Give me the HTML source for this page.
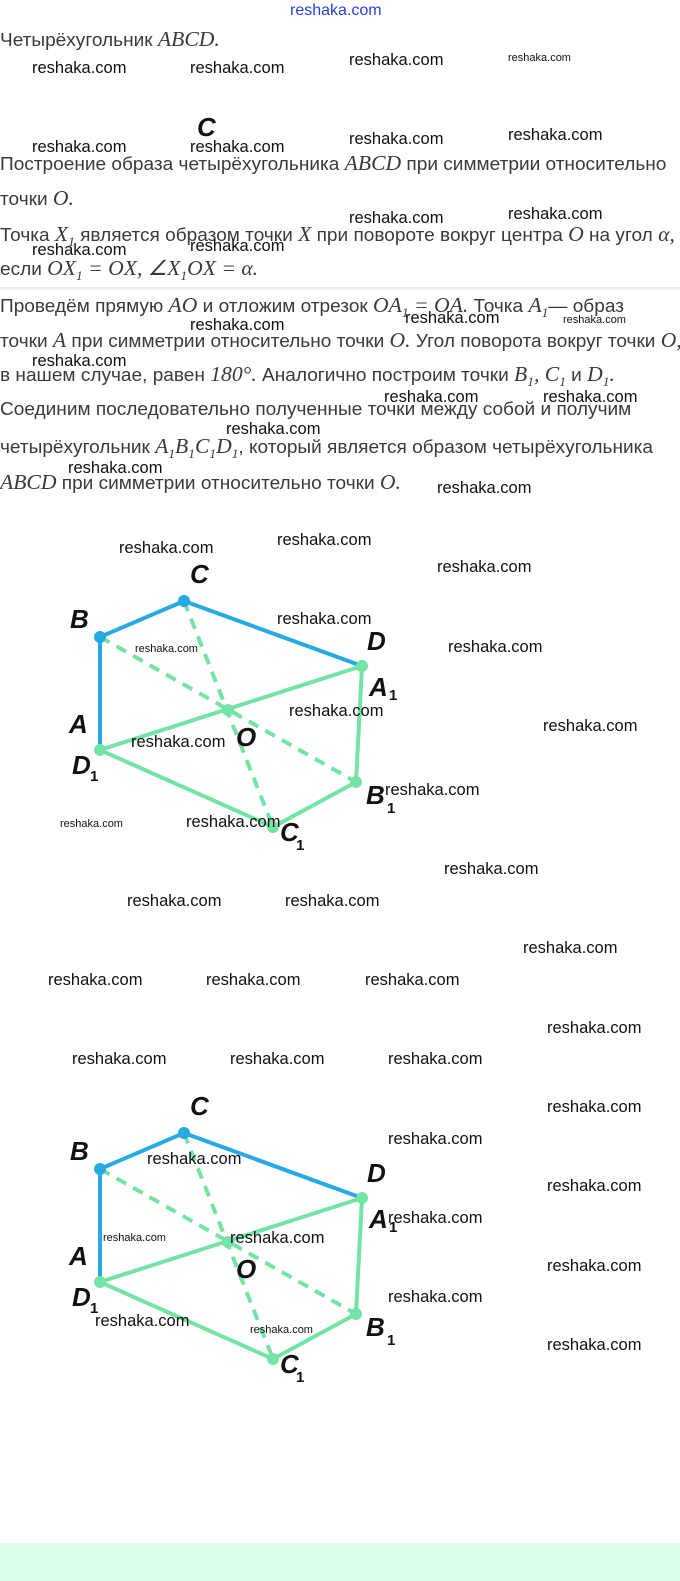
<!DOCTYPE html>
<html><head><meta charset="utf-8"><style>
body{margin:0;width:680px;height:1581px;position:relative;background:#fff;overflow:hidden;font-family:"Liberation Sans",sans-serif}
.t{position:absolute;left:0;font-size:18.5px;color:#3a3a3a;white-space:nowrap;transform:scaleX(1.03);transform-origin:left}
.m{font-family:"Liberation Serif",serif;font-style:italic;font-size:21px}
.w{position:absolute;font-size:16.5px;color:#111;white-space:nowrap;line-height:20px}
.s{font-size:11px}
.lb{font-family:"Liberation Sans",sans-serif;font-weight:bold;font-style:italic;font-size:26px;fill:#111}
.sb{font-family:"Liberation Sans",sans-serif;font-weight:bold;font-size:15px;fill:#111}
</style></head><body>
<div style="position:absolute;left:290px;top:2px;color:#2b3fd6;font-size:16px">reshaka.com</div>
<div class="t" style="top:27px">Четырёхугольник <span class="m">ABCD.</span></div>
<div style="position:absolute;left:197px;top:112px;font-weight:bold;font-style:italic;font-size:26px;color:#111">C</div>
<div class="t" style="top:151px">Построение образа четырёхугольника <span class="m">ABCD</span> при симметрии относительно</div>
<div class="t" style="top:186px">точки <span class="m">O.</span></div>
<div class="t" style="top:222px">Точка <span class="m">X<sub style="font-size:13px">1</sub></span> является образом точки <span class="m">X</span> при повороте вокруг центра <span class="m">O</span> на угол <span class="m">α,</span></div>
<div class="t" style="top:256px">если <span class="m">OX<sub style="font-size:13px">1</sub> = OX, ∠X<sub style="font-size:13px">1</sub>OX = α.</span></div>
<div style="position:absolute;left:0;top:287px;width:680px;height:3px;background:linear-gradient(#e4e4e4,#fafafa)"></div>
<div class="t" style="top:293px">Проведём прямую <span class="m">AO</span> и отложим отрезок <span class="m">OA<sub style="font-size:13px">1</sub> = OA.</span> Точка <span class="m">A<sub style="font-size:13px">1</sub></span>— образ</div>
<div class="t" style="top:328px">точки <span class="m">A</span> при симметрии относительно точки <span class="m">O.</span> Угол поворота вокруг точки <span class="m">O,</span></div>
<div class="t" style="top:362px">в нашем случае, равен <span class="m">180°.</span> Аналогично построим точки <span class="m">B<sub style="font-size:13px">1</sub>, C<sub style="font-size:13px">1</sub></span> и <span class="m">D<sub style="font-size:13px">1</sub>.</span></div>
<div class="t" style="top:398px">Соединим последовательно полученные точки между собой и получим</div>
<div class="t" style="top:434px">четырёхугольник <span class="m">A<sub style="font-size:13px">1</sub>B<sub style="font-size:13px">1</sub>C<sub style="font-size:13px">1</sub>D<sub style="font-size:13px">1</sub></span>, который является образом четырёхугольника</div>
<div class="t" style="top:470px"><span class="m">ABCD</span> при симметрии относительно точки <span class="m">O.</span></div>

<svg width="680" height="1581" style="position:absolute;left:0;top:0">
<defs><g id="dg">
<g stroke="#74e3a6" stroke-width="4" fill="none" stroke-dasharray="11,8">
<line x1="100" y1="637" x2="356" y2="782"/><line x1="184" y1="601" x2="273" y2="827"/></g>
<g stroke="#74e3a6" stroke-width="4" fill="none">
<polyline points="100,750 362,666 356,782 273,827 100,750"/></g>
<g stroke="#27a9e1" stroke-width="4" fill="none"><polyline points="100,750 100,637 184,601 362,666"/></g>
<g fill="#74e3a6"><circle cx="100" cy="750" r="6"/><circle cx="362" cy="666" r="6"/><circle cx="356" cy="782" r="6"/><circle cx="273" cy="827" r="6"/><circle cx="228" cy="710" r="6"/></g>
<g fill="#27a9e1"><circle cx="100" cy="637" r="6"/><circle cx="184" cy="601" r="6"/></g>
<text class="lb" x="190" y="583">C</text><text class="lb" x="70" y="628">B</text><text class="lb" x="367" y="650">D</text>
<text class="lb" x="369" y="696">A</text><text class="sb" x="389" y="700">1</text>
<text class="lb" x="69" y="733">A</text><text class="lb" x="236" y="746">O</text>
<text class="lb" x="72" y="774">D</text><text class="sb" x="90" y="781">1</text>
<text class="lb" x="366" y="804">B</text><text class="sb" x="387" y="813">1</text>
<text class="lb" x="280" y="841">C</text><text class="sb" x="296" y="850">1</text>
</g></defs>
<use href="#dg"/><use href="#dg" y="532"/>
</svg>

<div style="position:absolute;left:0;top:1543px;width:680px;height:38px;background:#dcfdea"></div>

<div class="w" style="left:32px;top:58px">reshaka.com</div><div class="w" style="left:190px;top:58px">reshaka.com</div><div class="w" style="left:349px;top:50px">reshaka.com</div><div class="w s" style="left:508px;top:48px">reshaka.com</div>
<div class="w" style="left:32px;top:137px">reshaka.com</div><div class="w" style="left:190px;top:137px">reshaka.com</div><div class="w" style="left:349px;top:129px">reshaka.com</div><div class="w" style="left:508px;top:125px">reshaka.com</div>
<div class="w" style="left:349px;top:208px">reshaka.com</div><div class="w" style="left:508px;top:204px">reshaka.com</div><div class="w" style="left:32px;top:240px">reshaka.com</div><div class="w" style="left:190px;top:236px">reshaka.com</div>
<div class="w" style="left:190px;top:315px">reshaka.com</div><div class="w" style="left:405px;top:308px">reshaka.com</div><div class="w s" style="left:563px;top:310px">reshaka.com</div>
<div class="w" style="left:32px;top:351px">reshaka.com</div><div class="w" style="left:384px;top:387px">reshaka.com</div><div class="w" style="left:543px;top:387px">reshaka.com</div><div class="w" style="left:226px;top:419px">reshaka.com</div>
<div class="w" style="left:68px;top:458px">reshaka.com</div><div class="w" style="left:437px;top:478px">reshaka.com</div>
<div class="w" style="left:119px;top:538px">reshaka.com</div><div class="w" style="left:277px;top:530px">reshaka.com</div><div class="w" style="left:437px;top:557px">reshaka.com</div>
<div class="w" style="left:277px;top:609px">reshaka.com</div><div class="w" style="left:448px;top:637px">reshaka.com</div><div class="w s" style="left:135px;top:639px">reshaka.com</div>
<div class="w" style="left:289px;top:701px">reshaka.com</div><div class="w" style="left:543px;top:716px">reshaka.com</div><div class="w" style="left:131px;top:732px">reshaka.com</div>
<div class="w" style="left:385px;top:780px">reshaka.com</div><div class="w s" style="left:60px;top:814px">reshaka.com</div><div class="w" style="left:186px;top:812px">reshaka.com</div>
<div class="w" style="left:444px;top:859px">reshaka.com</div><div class="w" style="left:127px;top:891px">reshaka.com</div><div class="w" style="left:285px;top:891px">reshaka.com</div>
<div class="w" style="left:523px;top:938px">reshaka.com</div><div class="w" style="left:48px;top:970px">reshaka.com</div><div class="w" style="left:206px;top:970px">reshaka.com</div><div class="w" style="left:365px;top:970px">reshaka.com</div>
<div class="w" style="left:547px;top:1018px">reshaka.com</div><div class="w" style="left:72px;top:1049px">reshaka.com</div><div class="w" style="left:230px;top:1049px">reshaka.com</div><div class="w" style="left:388px;top:1049px">reshaka.com</div>
<div class="w" style="left:547px;top:1097px">reshaka.com</div><div class="w" style="left:388px;top:1129px">reshaka.com</div><div class="w" style="left:147px;top:1149px">reshaka.com</div>
<div class="w" style="left:547px;top:1176px">reshaka.com</div><div class="w s" style="left:103px;top:1228px">reshaka.com</div><div class="w" style="left:388px;top:1208px">reshaka.com</div><div class="w" style="left:230px;top:1228px">reshaka.com</div>
<div class="w" style="left:547px;top:1256px">reshaka.com</div><div class="w" style="left:388px;top:1287px">reshaka.com</div><div class="w" style="left:95px;top:1311px">reshaka.com</div><div class="w s" style="left:250px;top:1320px">reshaka.com</div>
<div class="w" style="left:547px;top:1335px">reshaka.com</div>
</body></html>
